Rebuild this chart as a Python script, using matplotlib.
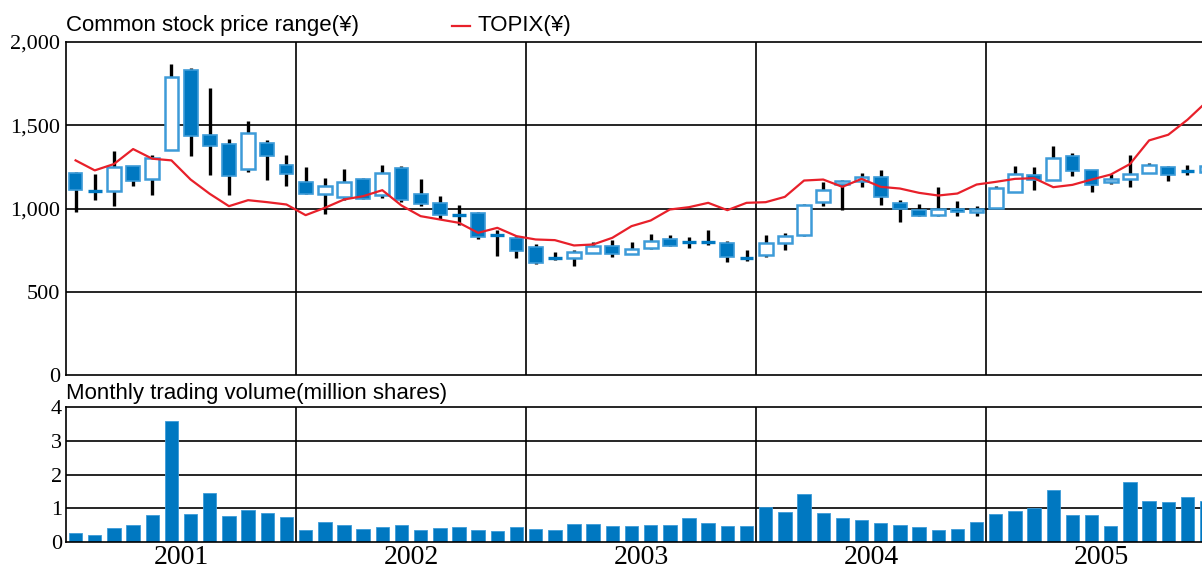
import matplotlib

matplotlib.use("Agg")
import matplotlib.pyplot as plt
import numpy as np

# monthly candles, 60 months (last one cut off by the frame)
opens = [1214, 1104, 1107, 1253, 1178, 1351, 1832, 1439, 1387, 1240, 1393, 1259,
         1158, 1090, 1070, 1178, 1082, 1244, 1090, 1036, 962, 974, 840, 824,
         770, 704, 704, 732, 776, 728, 760, 814, 796, 796, 794, 700,
         718, 792, 838, 1042, 1150, 1164, 1188, 1032, 990, 958, 998, 978,
         1004, 1100, 1204, 1174, 1316, 1230, 1158, 1178, 1212, 1250, 1226, 1220]
closes = [1110, 1104, 1251, 1164, 1306, 1792, 1433, 1377, 1198, 1451, 1313, 1206,
          1088, 1134, 1158, 1060, 1214, 1054, 1028, 962, 962, 826, 840, 744,
          674, 704, 738, 774, 724, 758, 804, 776, 796, 796, 710, 700,
          794, 836, 1020, 1114, 1166, 1188, 1068, 1000, 954, 994, 978, 998,
          1124, 1206, 1170, 1304, 1224, 1140, 1178, 1210, 1259, 1204, 1226, 1257]
highs = [1220, 1207, 1347, 1257, 1323, 1868, 1846, 1726, 1417, 1527, 1413, 1323,
         1247, 1184, 1238, 1184, 1259, 1257, 1178, 1078, 1020, 980, 868, 834,
         788, 740, 748, 798, 808, 796, 848, 838, 826, 868, 802, 748,
         840, 854, 1026, 1158, 1170, 1214, 1234, 1054, 1028, 1130, 1046, 1018,
         1138, 1258, 1250, 1377, 1335, 1234, 1206, 1323, 1275, 1257, 1263, 1265]
lows = [976, 1054, 1014, 1135, 1084, 1351, 1313, 1199, 1080, 1219, 1174, 1134,
        1088, 968, 1052, 1060, 1064, 1042, 1014, 934, 898, 814, 714, 700,
        668, 688, 654, 730, 708, 728, 758, 772, 764, 782, 680, 686,
        708, 750, 832, 1014, 990, 1130, 1020, 920, 954, 956, 956, 956,
        1004, 1100, 1110, 1174, 1194, 1100, 1148, 1130, 1212, 1166, 1200, 1210]
topix = [1289, 1229, 1267, 1357, 1299, 1289, 1174, 1088, 1014, 1050, 1038, 1024,
         960, 1004, 1054, 1074, 1110, 1018, 954, 934, 914, 854, 884, 834,
         814, 810, 778, 784, 824, 894, 928, 994, 1008, 1034, 990, 1034,
         1038, 1070, 1168, 1174, 1130, 1178, 1130, 1120, 1094, 1078, 1090, 1144,
         1160, 1178, 1182, 1128, 1142, 1174, 1204, 1267, 1409, 1443, 1533, 1641]
volume = [0.28, 0.20, 0.41, 0.51, 0.80, 3.59, 0.84, 1.45, 0.77, 0.96, 0.86, 0.73,
          0.36, 0.58, 0.51, 0.39, 0.44, 0.50, 0.37, 0.41, 0.45, 0.35, 0.34, 0.45,
          0.39, 0.36, 0.53, 0.52, 0.46, 0.46, 0.49, 0.50, 0.72, 0.56, 0.46, 0.46,
          1.05, 0.88, 1.43, 0.86, 0.70, 0.66, 0.55, 0.49, 0.44, 0.36, 0.38, 0.58,
          0.82, 0.91, 1.02, 1.55, 0.79, 0.81, 0.46, 1.79, 1.21, 1.20, 1.32, 1.21]
years = ["2001", "2002", "2003", "2004", "2005"]
price_ticks = [0, 500, 1000, 1500, 2000]
volume_ticks = [0, 1, 2, 3, 4]

BLUE = "#0078c1"
BLUE_EDGE = "#3d9bd8"
RED = "#e8202a"
SERIF = "Liberation Serif"
SANS = "Liberation Sans"

x = np.arange(len(opens))
o = np.array(opens, dtype=float)
c = np.array(closes, dtype=float)

fig = plt.figure(figsize=(12.02, 5.69), dpi=100)
ax = fig.add_axes([66 / 1202, 1 - 375 / 569, 1 - 66 / 1202, 333 / 569])
axv = fig.add_axes([66 / 1202, 1 - 542 / 569, 1 - 66 / 1202, 135 / 569])

xlim = (-0.5, -0.5 + 1136 / 19.17)
dividers = [11.5, 23.5, 35.5, 47.5]

# --- price panel
for y in price_ticks[1:-1]:
    ax.axhline(y, color="black", lw=1.2, zorder=1)
for d in dividers:
    ax.axvline(d, color="black", lw=1.2, zorder=1)

ax.vlines(x, lows, highs, color="black", lw=2.4, zorder=2)
doji = np.abs(c - o) < 1
up = (c > o) & ~doji
down = (c < o) & ~doji
w = 0.72
ax.bar(x[up], (c - o)[up], bottom=o[up], width=w, facecolor="white",
       edgecolor=BLUE_EDGE, lw=1.8, zorder=3)
ax.bar(x[down], (o - c)[down], bottom=c[down], width=w, facecolor=BLUE,
       edgecolor=BLUE_EDGE, lw=1.2, zorder=3)
ax.hlines(o[doji], x[doji] - w / 2, x[doji] + w / 2, color=BLUE, lw=2.4, zorder=3)
ax.plot(x, topix, color=RED, lw=1.6, zorder=4, clip_on=True)

ax.set_xlim(*xlim)
ax.set_ylim(0, 2000)
ax.set_yticks(price_ticks)
ax.set_yticklabels([f"{t:,}" for t in price_ticks], fontfamily=SERIF, fontsize=16)
ax.set_xticks([])
ax.tick_params(axis="y", length=0, pad=4)
for s in ["left", "top", "bottom"]:
    ax.spines[s].set_linewidth(1.2)
ax.spines["right"].set_visible(False)

fig.text(66 / 1202, 1 - 26 / 569, "Common stock price range(¥)", fontfamily=SANS,
         fontsize=16, va="center", ha="left")
fig.lines.append(plt.Line2D([452 / 1202, 470 / 1202], [1 - 26 / 569] * 2,
                            color=RED, lw=1.6, transform=fig.transFigure))
fig.text(478 / 1202, 1 - 26 / 569, "TOPIX(¥)", fontfamily=SANS, fontsize=16,
         va="center", ha="left")

# --- volume panel
for y in volume_ticks[1:-1]:
    axv.axhline(y, color="black", lw=1.2, zorder=1)
for d in dividers:
    axv.axvline(d, color="black", lw=1.2, zorder=1)
axv.bar(x, volume, width=0.7, color=BLUE, edgecolor=BLUE_EDGE, lw=0.6, zorder=2)
axv.set_xlim(*xlim)
axv.set_ylim(0, 4)
axv.set_yticks(volume_ticks)
axv.set_yticklabels([str(t) for t in volume_ticks], fontfamily=SERIF, fontsize=16)
axv.set_xticks([5.5, 17.5, 29.5, 41.5, 53.5])
axv.set_xticklabels(years, fontfamily=SERIF, fontsize=20)
axv.tick_params(axis="both", length=0, pad=3)
axv.tick_params(axis="x", pad=2)
for s in ["left", "top", "bottom"]:
    axv.spines[s].set_linewidth(1.2)
axv.spines["right"].set_visible(False)

fig.text(66 / 1202, 1 - 393 / 569, "Monthly trading volume(million shares)",
         fontfamily=SANS, fontsize=16, va="center", ha="left")

fig.savefig("out.png", dpi=100)
